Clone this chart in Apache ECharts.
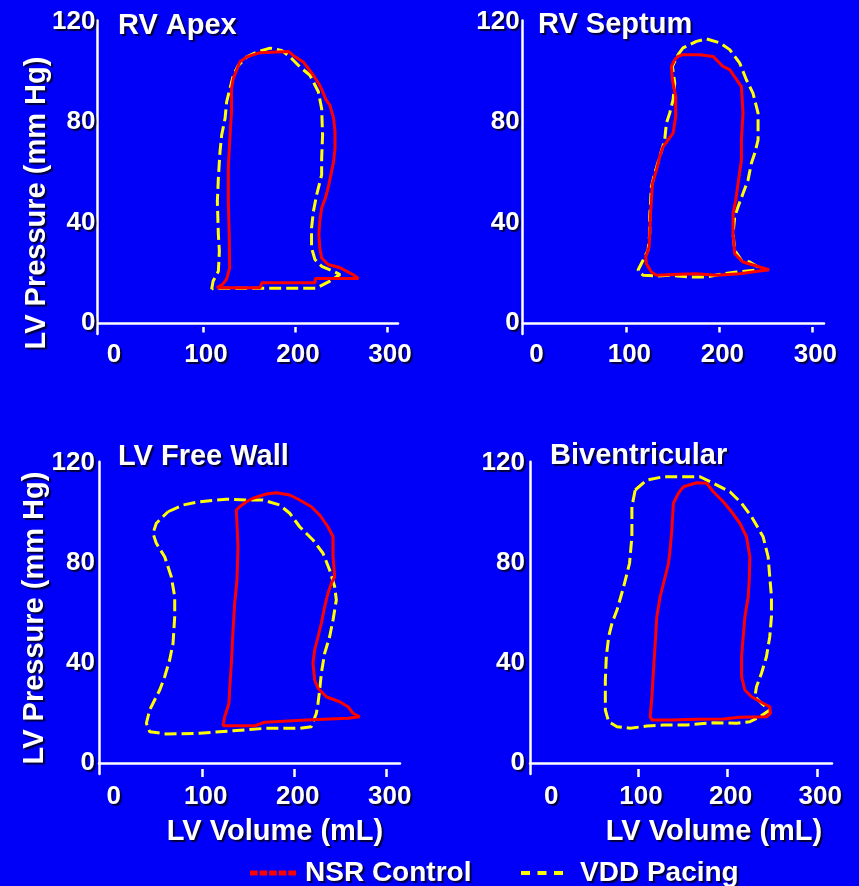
<!DOCTYPE html>
<html>
<head>
<meta charset="utf-8">
<style>
  html, body { margin: 0; padding: 0; background: #0000f8; }
  #chart { width: 859px; height: 886px; }
</style>
<script src="https://cdn.jsdelivr.net/npm/echarts@6/dist/echarts.min.js"></script>
</head>
<body>
<div id="chart"></div>
<script>
// ── Data ──────────────────────────────────────────────────────────────────────

const panelTitles  = ['RV Apex', 'RV Septum', 'LV Free Wall', 'Biventricular'];
const seriesNames  = ['NSR Control', 'VDD Pacing'];
const xTickValues  = [100, 200, 300];
const xLabelValues = [0, 100, 200, 300];
const yLabelValues = [0, 40, 80, 120];

// [LV volume (mL), LV pressure (mm Hg)]
const apexNsr = [
  [115, 14], [162, 14], [164, 16], [222, 16], [222, 17.7], [269, 17.7], [263, 19.3],
  [249, 22], [236, 23.3], [229, 25.9], [227, 29.9], [226, 35.2], [227, 40.5], [229, 45.8],
  [233, 49.7], [236, 53.7], [239, 59], [242, 64.3], [243.5, 69.6], [243.5, 76.2], [242, 81.5],
  [238, 86.8], [234, 88.8], [227, 94.7], [220, 98.7], [209, 104], [198, 106.6], [193, 108.2],
  [162, 107.7], [147.5, 106], [140, 104], [133, 97.4], [131, 93.4], [131, 84.1], [129, 72.2],
  [127.5, 61.6], [127.5, 48.4], [128.5, 35.2], [129, 22], [125.5, 17.3], [121, 15.3], [115, 14]
];
const apexVdd = [
  [109.4, 13.4], [111, 16.7], [116.7, 20.6], [117.8, 28.6], [116.7, 35.2], [115.6, 48.4],
  [116.7, 57.7], [118.5, 68.3], [120.3, 74.9], [124, 81.5], [125.7, 88.1], [129.3, 93.4],
  [133, 98.7], [138.4, 102.6], [147.5, 106], [158.3, 107.9], [172.8, 109.5], [185.5, 108.6],
  [194.6, 106], [205.4, 102], [216.3, 98.7], [225.4, 92.1], [229, 85.4], [230, 74.9],
  [229, 65.6], [229, 59], [223.6, 51.1], [220, 44.4], [218, 37.8], [218, 29.9], [221.7, 25.3],
  [229, 22.6], [241.7, 20.6], [249, 19.3], [238, 16.7], [222.8, 13.8], [174.6, 13.8],
  [111, 13.8], [109.4, 13.4]
];
const septumNsr = [
  [152, 104.9], [148.4, 102.2], [149.5, 96.9], [153, 90.2], [153, 82.2], [150.2, 75.6],
  [144.8, 72.9], [139.4, 70.2], [135.8, 66.2], [132.3, 60.9], [128, 55.6], [126.9, 48.9],
  [125.8, 42.3], [125.1, 35.6], [124.4, 30.3], [120.8, 26.3], [121.5, 23.6], [126.9, 20.3],
  [132.3, 19], [157.3, 19.4], [175.3, 19.6], [196.8, 19], [221.9, 19.6], [243.4, 20.7],
  [253.4, 21.2], [243.4, 22.3], [225.4, 24.3], [216.5, 27.6], [214.7, 35.6], [214.7, 43.6],
  [217.6, 48.9], [220.1, 55.6], [223.7, 64.9], [223.7, 72.9], [225.4, 83.6], [223.7, 94.2],
  [211.1, 100.9], [203.9, 102.2], [193.2, 106.2], [178.9, 106.9], [160.9, 106.9],
  [155.6, 106.2], [152, 104.9]
];
const septumVdd = [
  [155.6, 106.9], [160.9, 109.6], [175.3, 112.2], [186, 113.2], [200.4, 111.6], [211.1, 108.9],
  [221.9, 103.5], [229, 96.9], [236.2, 91.5], [241.6, 83.6], [241.6, 72.9], [238, 67.6],
  [234.4, 63.6], [230.8, 56.9], [225.4, 51.6], [220.1, 46.3], [216.5, 42.3], [214.7, 35.6],
  [216.5, 29], [223.7, 25], [232.6, 24.3], [241.6, 22.3], [238, 21], [218.3, 20.3],
  [203.9, 19.6], [186, 18.3], [168.1, 18.3], [146.6, 19], [132.3, 18.7], [117.9, 19],
  [112.5, 21], [117.9, 25], [123.3, 29], [125.1, 35.6], [125.1, 42.3], [126.9, 54.3],
  [130.5, 59.6], [135.8, 66.2], [141.2, 72.9], [143, 79.6], [146.6, 83.6], [150.2, 88.9],
  [152, 95.5], [149.5, 102.2], [155.6, 106.9]
];
const freeWallNsr = [
  [140.2, 102.5], [147.5, 104.5], [154.7, 105.9], [169.2, 107.6], [180.1, 108.1], [194.6, 107.2],
  [205.4, 105.2], [218.1, 102.5], [227.2, 99.2], [236.2, 94.5], [241.7, 90.5], [241.7, 82.5],
  [243.5, 74.5], [239.9, 71.9], [236.2, 67.9], [232.6, 62.5], [229, 55.9], [225.4, 50.5],
  [221.7, 45.2], [219.9, 39.9], [221.7, 33.2], [225.4, 29.9], [234.4, 26.5], [248.9, 24.5],
  [258, 22.5], [263.4, 19.9], [270.7, 18.5], [258, 17.9], [212.7, 17.2], [167.4, 16.3],
  [156.5, 14.9], [122.1, 14.9], [123.9, 18.5], [128.6, 23.9], [129.3, 29.2], [131.2, 39.9],
  [133, 53.2], [134.8, 63.9], [137.3, 73.2], [138.4, 86.5], [137.3, 95.9], [136.6, 101.2],
  [140.2, 102.5]
];
const freeWallVdd = [
  [62.3, 100.5], [78.6, 103.2], [96.7, 104.5], [125.7, 105.5], [147.5, 105.2], [165.6, 105.2],
  [183.7, 103.2], [194.6, 99.9], [205.4, 94.5], [219.9, 89.2], [230.8, 83.9], [238, 77.2],
  [243.5, 70.5], [245.3, 65.2], [241.7, 57.2], [238, 50.5], [232.6, 43.9], [229, 35.9],
  [227.2, 29.2], [225.4, 23.9], [223.6, 19.9], [218.1, 14.5], [205.4, 13.9], [169.2, 13.9],
  [133, 12.9], [96.7, 11.9], [60.5, 11.6], [42.4, 12.5], [38.8, 15.9], [42.4, 21.2],
  [47.8, 25.2], [53.3, 29.2], [58.7, 34.5], [64.1, 41.2], [67.8, 47.9], [69.6, 58.5],
  [69.6, 66.5], [65.9, 74.5], [58.7, 82.5], [49.6, 87.9], [46, 91.9], [49.6, 95.9], [62.3, 100.5]
];
const biventNsr = [
  [150.7, 110.5], [165.6, 112.1], [176.7, 111.9], [184.1, 108.5], [195.2, 104.5], [204.4, 100.5],
  [213.7, 95.9], [221.1, 90.5], [224.8, 82.5], [224.1, 73.2], [223, 66.5], [219.3, 58.5],
  [217.4, 50.5], [215.6, 42.5], [215.6, 34.5], [219.3, 29.2], [226.7, 26.5], [239.6, 23.9],
  [247, 22.5], [247.8, 19.9], [243.3, 18.5], [213.7, 18.3], [195.2, 17.6], [165.6, 17.5],
  [135.9, 17.2], [115.6, 17.2], [113.7, 18.5], [115.6, 26.5], [117.4, 37.2], [119.3, 47.9],
  [121.1, 58.5], [124.8, 66.5], [130.4, 74.5], [134.1, 79.9], [135.9, 85.2], [137.8, 93.2],
  [139.6, 103.9], [145.2, 107.9], [150.7, 110.5]
];
const biventVdd = [
  [97, 109.2], [110, 113.2], [128.5, 114.5], [150.7, 114.5], [169.3, 114.5], [184.1, 111.9],
  [202.6, 108.5], [215.6, 103.9], [226.7, 98.5], [239.6, 90.5], [245.2, 82.5], [247, 74.5],
  [248.9, 66.5], [248.9, 58.5], [247, 50.5], [243.3, 42.5], [237.8, 35.9], [232.2, 30.5],
  [230.4, 26.5], [237.8, 23.9], [247, 21.2], [235.9, 18.5], [224.8, 16.5], [210, 15.9],
  [184.1, 16.1], [154.4, 15.2], [128.5, 15.2], [110, 14.8], [91.5, 13.9], [76.7, 14.5],
  [67.4, 16.5], [63.7, 21.2], [63.7, 33.2], [64.8, 42.5], [67.4, 50.5], [71.1, 55.9],
  [76.7, 61.2], [84.1, 70.5], [90.7, 79.9], [93.3, 90.5], [93.3, 102.5], [97, 109.2]
];

const loops = [
  [apexNsr, apexVdd],
  [septumNsr, septumVdd],
  [freeWallNsr, freeWallVdd],
  [biventNsr, biventVdd],
];

// ── Layout ────────────────────────────────────────────────────────────────────

const panels = [
  { left: 97.5, top: 20.5,   width: 300.5, height: 313.5,  xMin: -14.7, xMax: 312,   yMin: -4.38, tickOffset: -7, tickLen: 5.5, labelMargin: 14.5, yMargin: 2, titleLeft: 118, titleTop: 11 },
  { left: 522.7, top: 20.5,  width: 301.3, height: 313.5,  xMin: -11.5, xMax: 312.5, yMin: -4.38, tickOffset: -7, tickLen: 5.5, labelMargin: 14.5, yMargin: 3, titleLeft: 538, titleTop: 10 },
  { left: 99, top: 461.75,   width: 301,   height: 312.25, xMin: -12.7, xMax: 314.5, yMin: -4.4,  tickOffset: -5, tickLen: 8,   labelMargin: 15,   yMargin: 4, titleLeft: 118, titleTop: 442 },
  { left: 530, top: 461.75,  width: 302,   height: 312.25, xMin: -20.3, xMax: 316.4, yMin: -4.4,  tickOffset: -5, tickLen: 8,   labelMargin: 15,   yMargin: 5, titleLeft: 550, titleTop: 441 },
];

const FONT = "'Liberation Sans', Arial, Helvetica, sans-serif";
const shadow = {
  textShadowColor: 'rgba(0,0,40,0.9)',
  textShadowOffsetX: 2,
  textShadowOffsetY: 2,
  textShadowBlur: 1,
};
const txt = (size) => ({ color: '#fff', fontFamily: FONT, fontWeight: 'bold', fontSize: size, ...shadow });

const RED = '#ff0000';
const YELLOW = '#ffff00';

// ── Options ───────────────────────────────────────────────────────────────────

const grid = [];
const xAxis = [];
const yAxis = [];
const series = [];

panels.forEach((p, i) => {
  grid.push({ left: p.left, top: p.top, width: p.width, height: p.height, outerBoundsMode: 'none' });

  // axis line sitting on pressure 0
  xAxis.push({
    type: 'value', gridIndex: i, min: p.xMin, max: p.xMax, position: 'bottom',
    axisLine: { show: true, onZero: true, lineStyle: { color: '#fff', width: 2.5 } },
    axisTick: { show: false },
    axisLabel: { show: false },
    splitLine: { show: false },
  });
  // detached ticks + labels
  xAxis.push({
    type: 'value', gridIndex: i, min: p.xMin, max: p.xMax, position: 'bottom', offset: p.tickOffset,
    axisLine: { show: false, onZero: false },
    axisTick: { show: true, length: p.tickLen, customValues: xTickValues, lineStyle: { color: '#fff', width: 2.5 } },
    axisLabel: { customValues: xLabelValues, margin: p.labelMargin, padding: [0, 0, 0, 6], ...txt(26) },
    splitLine: { show: false },
  });
  yAxis.push({
    type: 'value', gridIndex: i, min: p.yMin, max: 120.5, position: 'left',
    axisLine: { show: true, onZero: false, lineStyle: { color: '#fff', width: 2.5 } },
    axisTick: { show: false },
    axisLabel: { customValues: yLabelValues, margin: p.yMargin, ...txt(26) },
    splitLine: { show: false },
  });

  const [nsr, vdd] = loops[i];
  series.push({
    name: seriesNames[1], type: 'line', xAxisIndex: i * 2, yAxisIndex: i,
    data: vdd, showSymbol: false, symbol: 'none', smooth: false, animation: false,
    color: YELLOW,
    lineStyle: { color: YELLOW, width: 3, type: [12, 5] },
    z: 2,
  });
  series.push({
    name: seriesNames[0], type: 'line', xAxisIndex: i * 2, yAxisIndex: i,
    data: nsr, showSymbol: false, symbol: 'none', smooth: false, animation: false,
    color: RED,
    lineStyle: { color: RED, width: 3 },
    z: 3,
  });
});

const title = panels.map((p, i) => ({
  text: panelTitles[i], left: p.titleLeft, top: p.titleTop, padding: 0,
  textStyle: txt(29),
}));

const textEl = (text, x, y, rotation) => ({
  type: 'text', x, y, rotation: rotation || 0, silent: true,
  style: {
    text, fill: '#fff', fontFamily: FONT, fontWeight: 'bold', fontSize: 29,
    align: 'center', verticalAlign: 'middle',
    textShadowColor: 'rgba(0,0,40,0.9)', textShadowOffsetX: 2, textShadowOffsetY: 2, textShadowBlur: 1,
  },
});

const legendBase = {
  orient: 'horizontal', padding: 0, selectedMode: false,
  itemStyle: { borderWidth: 0 },
  textStyle: txt(28),
};

const option = {
  backgroundColor: '#0000f8',
  animation: false,
  title,
  grid,
  xAxis,
  yAxis,
  series,
  legend: [
    {
      // trailing empty moveTo widens the icon box so the text sits further right
      ...legendBase, data: [seriesNames[0]], left: 250, top: 859,
      itemWidth: 50, itemHeight: 5,
      icon: 'path://M0,0H7.6V5H0Z M9.6,0H17.2V5H9.6Z M19.2,0H26.8V5H19.2Z M28.8,0H36.4V5H28.8Z M38.4,0H46V5H38.4Z M50,0Z',
    },
    {
      ...legendBase, data: [seriesNames[1]], left: 521, top: 859,
      itemWidth: 54, itemHeight: 4,
      icon: 'path://M0,0H9V4H0Z M16.5,0H25.5V4H16.5Z M33,0H42V4H33Z M54,0Z',
    },
  ],
  graphic: [
    textEl('LV Pressure (mm Hg)', 37, 203, Math.PI / 2),
    textEl('LV Pressure (mm Hg)', 35, 618, Math.PI / 2),
    textEl('LV Volume (mL)', 275, 832),
    textEl('LV Volume (mL)', 714, 832),
  ],
};

const chart = echarts.init(document.getElementById('chart'), null, { renderer: 'canvas' });
chart.setOption(option);
</script>
</body>
</html>
